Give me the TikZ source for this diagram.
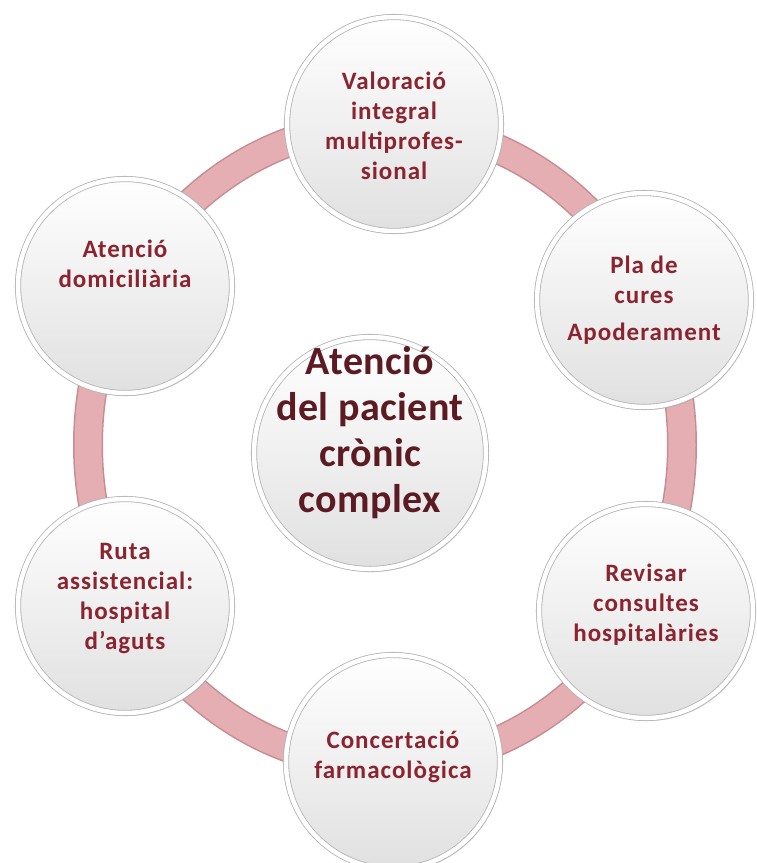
\documentclass[tikz,border=0pt]{standalone}
\usepackage{fontspec}
\setmainfont{Carlito}
\newfontfamily\lsfont[LetterSpace=4.0]{Carlito}
\newfontfamily\hubfont[LetterSpace=1.0]{Carlito}
\usetikzlibrary{shadows}
\definecolor{ringfill}{RGB}{228,174,178}
\definecolor{ringedge}{RGB}{198,140,146}
\definecolor{txtout}{RGB}{138,36,48}
\definecolor{txtin}{RGB}{92,26,34}
\tikzset{
  bubble/.style={circle, inner sep=0pt, minimum size=214pt,
    top color=white, bottom color=gray!24, draw=gray!60, line width=0.8pt,
    double=white, double distance=4.5pt,
    drop shadow={opacity=0.25, shadow xshift=2pt, shadow yshift=-3pt}},
  hub/.style={bubble, minimum size=232pt},
  outtxt/.style={align=center, inner sep=0pt, text=txtout,
    font=\lsfont\bfseries\fontsize{25}{30}\selectfont},
  hubtxt/.style={align=center, inner sep=0pt, text=txtin,
    font=\hubfont\bfseries\fontsize{40}{46}\selectfont},
}
\begin{document}
\begin{tikzpicture}[x=1pt,y=-1pt]
\useasboundingbox[fill=white] (0,0) rectangle (757,863);
\coordinate (ringc) at (385,445);
\draw[ringedge, line width=30pt] (ringc) ellipse [x radius=297pt, y radius=320pt];
\draw[ringfill, line width=27pt] (ringc) ellipse [x radius=297pt, y radius=320pt];
\node[bubble] (n1) at (394,124) {};
\node[bubble] (n2) at (644,300) {};
\node[bubble] (n3) at (646,611) {};
\node[bubble] (n4) at (393,762) {};
\node[bubble] (n5) at (125,606) {};
\node[bubble] (n6) at (125,286) {};
\node[hub] (c) at (370,453) {};
\node[outtxt] (t1) at ([yshift=-2pt]n1.center) {Valoració\\integral\\multiprofes-\\sional};
\node[outtxt] (t2) at (n2.center) {Pla de\\cures\\[7pt]Apoderament};
\node[outtxt] (t3) at ([yshift=6pt]n3.center) {Revisar\\consultes\\hospitalàries};
\node[outtxt] (t4) at ([yshift=5pt]n4.center) {Concertació\\farmacològica};
\node[outtxt] (t5) at ([yshift=7pt]n5.center) {Ruta\\assistencial:\\hospital\\d’aguts};
\node[outtxt] (t6) at ([yshift=22pt]n6.center) {Atenció\\domiciliària};
\node[hubtxt] (tc) at ([yshift=20pt]c.center) {Atenció\\del pacient\\crònic\\complex};
\end{tikzpicture}
\end{document}
